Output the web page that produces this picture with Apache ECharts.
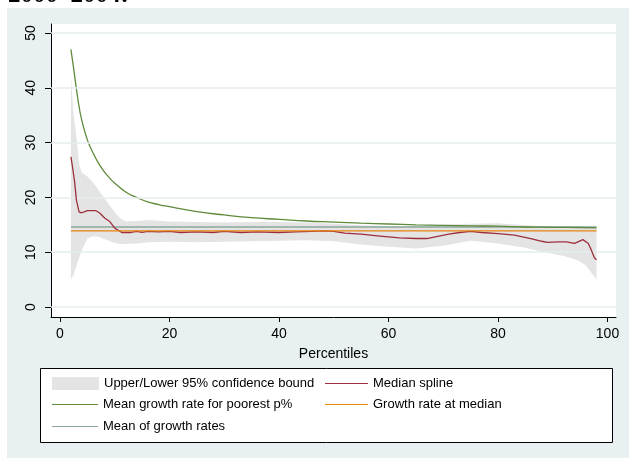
<!DOCTYPE html>
<html>
<head>
<meta charset="utf-8">
<script src="https://cdn.jsdelivr.net/npm/echarts@6/dist/echarts.min.js"></script>
<style>
  html, body { margin: 0; padding: 0; background: #fff; }
  #chart { width: 629px; height: 458px; }
</style>
</head>
<body>
<div id="chart"></div>
<script>
// percentiles where the confidence band was read
const bandPct = [2, 2.5, 3, 3.5, 4, 5, 6, 7, 8, 9, 10, 11, 12, 14, 16, 20, 25, 30, 35, 40, 45, 50, 55, 60, 65, 70, 75, 80, 85, 88, 90, 92, 94, 95, 96, 97, 98]
const bandUpper = [42, 35, 31, 26, 24.5, 23.8, 22.8, 21.4, 20.0, 18.6, 17.3, 16.2, 15.6, 15.7, 15.9, 15.6, 15.5, 15.4, 15.5, 15.5, 15.4, 15.2, 14.9, 14.8, 14.8, 15.0, 15.2, 15.3, 14.9, 14.8, 14.8, 14.8, 14.8, 14.8, 14.7, 14.7, 14.7]
const bandLower = [5.0, 6.0, 7.5, 9.0, 10.4, 12.5, 12.9, 12.8, 12.4, 12.1, 11.7, 11.5, 11.5, 11.6, 11.8, 11.9, 11.8, 11.9, 12.0, 12.1, 12.2, 12.0, 11.4, 11.0, 10.7, 11.2, 12.1, 11.6, 10.8, 10.1, 9.7, 9.3, 8.7, 8.3, 7.6, 6.3, 5.0]

// mean growth rate for poorest p%
const poorPct = [2, 2.5, 3, 3.5, 4, 5, 6, 7, 8, 9, 10, 12, 14, 16, 18, 20, 25, 30, 35, 40, 45, 50, 55, 60, 65, 70, 75, 80, 85, 90, 95, 98]
const poorMean = [47, 43.5, 39.8, 36.5, 34, 30.5, 28.2, 26.3, 24.8, 23.6, 22.6, 21.0, 20.0, 19.2, 18.7, 18.3, 17.4, 16.8, 16.3, 16.0, 15.7, 15.5, 15.3, 15.15, 15.0, 14.9, 14.8, 14.75, 14.6, 14.55, 14.5, 14.45]

// median spline
const medPct = [2, 2.3, 2.7, 3, 3.5, 4, 5, 6.5, 7.3, 8.2, 9.1, 10, 11.3, 13, 14, 15, 16, 18, 20, 22, 25, 28, 30, 33, 36, 40, 43, 46, 48, 50, 52, 55, 58, 60, 62, 65, 67, 69, 71, 73, 75, 77, 80, 83, 86, 88, 89, 91, 92.5, 94, 95.5, 96.5, 97, 97.6, 98]
const medSpline = [27.4, 25.5, 22.6, 19.5, 17.3, 17.2, 17.6, 17.6, 17.1, 16.2, 15.6, 14.4, 13.6, 13.6, 13.8, 13.6, 13.8, 13.7, 13.8, 13.6, 13.7, 13.6, 13.8, 13.6, 13.7, 13.6, 13.7, 13.8, 13.9, 13.8, 13.5, 13.3, 13.0, 12.8, 12.6, 12.5, 12.5, 12.9, 13.3, 13.6, 13.8, 13.6, 13.4, 13.1, 12.5, 12.0, 11.8, 11.9, 11.9, 11.6, 12.3, 11.6, 10.5, 9.0, 8.6]

// flat reference lines
const flatPct = [2, 98]
const growthAtMedian = [13.9, 13.9]
const meanOfGrowth = [14.6, 14.6]

const xTicks = [0, 20, 40, 60, 80, 100]
const yTicks = [0, 10, 20, 30, 40, 50]

const names = {
  band: 'Upper/Lower 95% confidence bound',
  med: 'Median spline',
  poor: 'Mean growth rate for poorest p%',
  atMed: 'Growth rate at median',
  mean: 'Mean of growth rates'
}

const zip = (xs, ys) => xs.map((x, i) => [x, ys[i]])
const font = 'Liberation Sans'

let myChart = echarts.init(document.getElementById('chart'))

// one legend per entry, Stata puts them in two columns
function legendAt(name, left, top, w, h) {
  return {
    data: [{ name: name, icon: 'rect' }],
    left: left,
    top: top,
    itemWidth: w,
    itemHeight: h,
    selectedMode: false,
    padding: 0,
    textStyle: { color: '#000', fontFamily: font, fontSize: 13 }
  }
}

myChart.setOption({
  animation: false,
  graphic: [
    // grey outer panel
    { type: 'rect', z: -100, shape: { x: 7, y: 8, width: 622, height: 450 }, style: { fill: '#e8f0f2' } },
    // legend box
    { type: 'rect', z: -50, shape: { x: 40.5, y: 368.5, width: 572, height: 74 }, style: { fill: '#fff', stroke: '#000', lineWidth: 1 } },
    // title cut off at the top of the picture
    { type: 'text', z: 10, x: 8, y: 8.5, style: { text: '2000–2004:', fill: '#000', font: 'bold 25px Liberation Serif', verticalAlign: 'bottom' } }
  ],
  grid: {
    left: 51,
    top: 24,
    right: 13,
    bottom: 141,
    show: true,
    backgroundColor: '#fff',
    borderWidth: 0
  },
  legend: [
    legendAt(names.band, 52, 377, 47, 13),
    legendAt(names.poor, 52, 398, 46, 1),
    legendAt(names.mean, 52, 420, 46, 1),
    legendAt(names.med, 325, 377, 43, 1),
    legendAt(names.atMed, 325, 398, 43, 1)
  ],
  xAxis: {
    type: 'value',
    min: -1.64,
    max: 101.55,
    name: 'Percentiles',
    nameLocation: 'middle',
    nameGap: 30,
    nameTextStyle: { color: '#000', fontFamily: font, fontSize: 14 },
    axisLine: { show: true, onZero: false, lineStyle: { color: '#000', width: 1 } },
    axisTick: { show: true, length: 5, customValues: xTicks, lineStyle: { color: '#000' } },
    axisLabel: { customValues: xTicks, margin: 10, color: '#000', fontFamily: font, fontSize: 14 },
    splitLine: { show: false }
  },
  yAxis: {
    type: 'value',
    min: -1.82,
    max: 51.64,
    axisLine: { show: true, onZero: false, lineStyle: { color: '#000', width: 1 } },
    axisTick: { show: true, length: 6, customValues: yTicks, lineStyle: { color: '#000' } },
    axisLabel: { customValues: yTicks, rotate: 90, margin: 13, color: '#000', fontFamily: font, fontSize: 14 },
    splitLine: { show: false }
  },
  series: [
    {
      // horizontal grid lines
      type: 'line',
      data: [],
      z: 1,
      silent: true,
      markLine: {
        silent: true,
        symbol: 'none',
        label: { show: false },
        lineStyle: { color: '#e6eef0', width: 1.5, type: 'solid' },
        data: yTicks.map(v => ({ yAxis: v }))
      }
    },
    {
      name: names.band,
      type: 'custom',
      z: 2,
      silent: true,
      itemStyle: { color: '#e4e4e4' },
      data: bandPct.map((p, i) => [p, bandLower[i], bandUpper[i]]),
      encode: { x: 0, y: [1, 2] },
      renderItem: function (params, api) {
        if (params.dataIndex !== 0) return
        let up = bandPct.map((p, i) => api.coord([p, bandUpper[i]]))
        let low = bandPct.map((p, i) => api.coord([p, bandLower[i]])).reverse()
        return { type: 'polygon', shape: { points: up.concat(low) }, style: { fill: '#e4e4e4' } }
      }
    },
    {
      name: names.mean,
      type: 'line',
      z: 3,
      color: '#8ba79b',
      symbol: 'none',
      lineStyle: { color: '#8ba79b', width: 1.3 },
      data: zip(flatPct, meanOfGrowth)
    },
    {
      name: names.poor,
      type: 'line',
      z: 4,
      color: '#5f8a3a',
      symbol: 'none',
      smooth: true,
      lineStyle: { color: '#5f8a3a', width: 1.3 },
      data: zip(poorPct, poorMean)
    },
    {
      name: names.med,
      type: 'line',
      z: 5,
      color: '#9c2f3b',
      symbol: 'none',
      lineStyle: { color: '#9c2f3b', width: 1.3 },
      data: zip(medPct, medSpline)
    },
    {
      name: names.atMed,
      type: 'line',
      z: 6,
      color: '#e8830f',
      symbol: 'none',
      lineStyle: { color: '#e8830f', width: 1.3 },
      data: zip(flatPct, growthAtMedian)
    }
  ]
})
window.onresize = function () {
  myChart.resize()
}
</script>
</body>
</html>
